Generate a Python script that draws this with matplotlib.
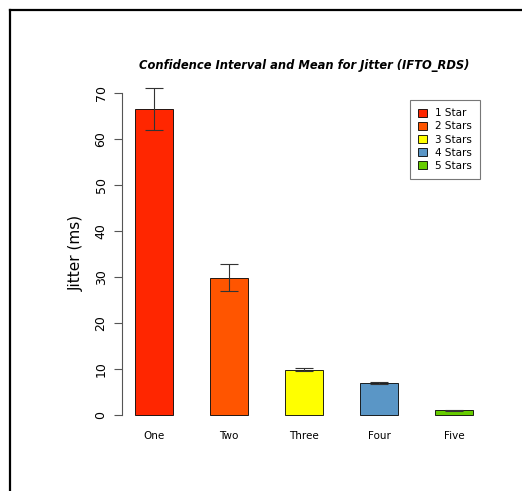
import matplotlib
matplotlib.use("Agg")
from matplotlib import pyplot as plt
from matplotlib.lines import Line2D
from matplotlib.patches import Patch

categories = ["One", "Two", "Three", "Four", "Five"]
means = [66.5, 29.8, 9.8, 6.9, 1.0]
ci_half = [4.6, 3.0, 0.4, 0.2, 0.1]
colors = ["#ff2600", "#ff5500", "#ffff00", "#5a96c6", "#66cc00"]
legend_labels = ["1 Star", "2 Stars", "3 Stars", "4 Stars", "5 Stars"]

fig = plt.figure(figsize=(5.22, 4.91), dpi=100)
ax = fig.add_axes([121.5 / 522, 63 / 491, 365 / 522, 351 / 491])

x = list(range(1, len(categories) + 1))
ax.bar(x, means, width=0.5, color=colors, edgecolor="black", linewidth=0.6)
ax.errorbar(x, means, yerr=ci_half, fmt="none", ecolor="#333333",
            elinewidth=0.8, capsize=6.8, capthick=0.8)

ax.set_xlim(0.57, 5.43)
ax.set_ylim(-2.9, 73.4)

# R-style axis: only left axis, spanning tick range
for s in ["top", "right", "bottom"]:
    ax.spines[s].set_visible(False)
ax.spines["left"].set_bounds(0, 70)
ax.spines["left"].set_color("#555555")
ax.spines["left"].set_linewidth(0.8)
ax.set_yticks(range(0, 71, 10))
ax.tick_params(axis="y", length=6, width=0.8, color="#555555", labelsize=9, pad=4)
for lab in ax.get_yticklabels():
    lab.set_rotation(90)
    lab.set_va("center")
ax.set_xticks(x)
ax.set_xticklabels(categories, fontsize=7.5)
ax.tick_params(axis="x", length=0, pad=2)

ax.set_ylabel("Jitter (ms)", fontsize=11, labelpad=8)
fig.text(304 / 522, 1 - 65 / 491, "Confidence Interval and Mean for Jitter (IFTO_RDS)",
         ha="center", va="center", fontsize=8.3, fontweight="bold", fontstyle="italic")

handles = [Patch(facecolor=c, edgecolor="black", linewidth=0.6) for c in colors]
leg = ax.legend(handles, legend_labels, loc="upper left",
                bbox_to_anchor=((410 - 121.5) / 365, (428 - 100) / 351),
                fontsize=7.5, frameon=True, fancybox=False, edgecolor="#555555",
                handlelength=0.8, handleheight=0.8, handletextpad=0.8,
                labelspacing=0.3, borderpad=0.8, borderaxespad=0)
leg.get_frame().set_linewidth(0.8)

# outer frame (left and top edges)
fig.add_artist(Line2D([9.5 / 522, 9.5 / 522], [0, 1 - 10 / 491], color="black", lw=1.6))
fig.add_artist(Line2D([9.5 / 522, 1], [1 - 10 / 491, 1 - 10 / 491], color="black", lw=1.6))

fig.savefig("out.png", dpi=100)
